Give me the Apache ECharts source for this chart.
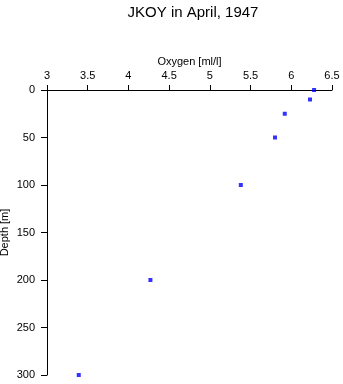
<!DOCTYPE html>
<html>
<head>
<meta charset="utf-8">
<script src="https://cdn.jsdelivr.net/npm/echarts@6/dist/echarts.min.js"></script>
<style>
html,body{margin:0;padding:0;background:#fff;}
#main{width:343px;height:384px;}
</style>
</head>
<body>
<div id="main"></div>
<script>
var oxygen = [6.28, 6.23, 5.92, 5.80, 5.38, 4.27, 3.39];
var depth = [0, 10, 25, 50, 100, 200, 300];

function pairs(xs, ys) {
    var data = [];
    for (var i = 0; i < xs.length; i++) {
        data.push([xs[i], ys[i]]);
    }
    return data;
}

var font = 'Liberation Sans, Arial, Helvetica, sans-serif';
var chart = echarts.init(document.getElementById('main'));
chart.setOption({
    animation: false,
    backgroundColor: '#fff',
    title: {
        text: 'JKOY in April, 1947',
        left: 188,
        top: 0,
        textAlign: 'center',
        textStyle: {fontFamily: font, fontSize: 15, fontWeight: 'normal', color: '#000'}
    },
    grid: {left: 47, right: 11, top: 90, bottom: 9, containLabel: false, outerBoundsMode: 'none'},
    xAxis: {
        type: 'value',
        position: 'top',
        min: 3,
        max: 6.5,
        interval: 0.5,
        name: 'Oxygen [ml/l]',
        nameLocation: 'middle',
        nameGap: 23,
        nameMoveOverlap: false,
        nameTextStyle: {fontFamily: font, fontSize: 11, color: '#000'},
        axisLine: {onZero: false, lineStyle: {color: '#000', width: 1}},
        axisTick: {length: 5, lineStyle: {color: '#000'}},
        axisLabel: {fontFamily: font, fontSize: 11, color: '#000', margin: 9},
        splitLine: {show: false}
    },
    yAxis: {
        type: 'value',
        inverse: true,
        min: 0,
        max: 300,
        interval: 50,
        name: 'Depth [m]',
        nameLocation: 'middle',
        nameGap: 37,
        nameMoveOverlap: false,
        nameTextStyle: {fontFamily: font, fontSize: 11, color: '#000'},
        axisLine: {show: true, onZero: false, lineStyle: {color: '#000', width: 1}},
        axisTick: {show: true, length: 6, lineStyle: {color: '#000'}},
        axisLabel: {fontFamily: font, fontSize: 11, color: '#000', margin: 12},
        splitLine: {show: false}
    },
    series: [{
        type: 'scatter',
        symbol: 'rect',
        symbolSize: 4,
        itemStyle: {color: '#0000ff'},
        data: pairs(oxygen, depth)
    }]
});
</script>
</body>
</html>
